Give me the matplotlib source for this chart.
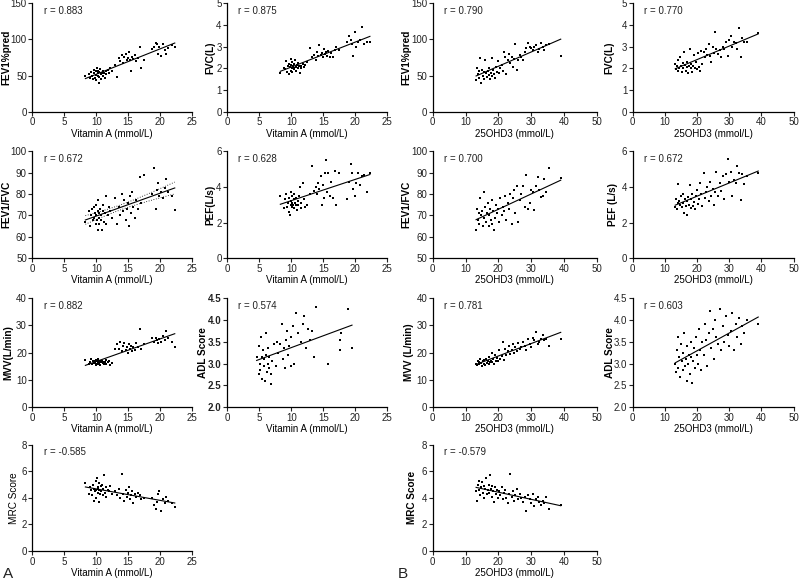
import numpy as np
import matplotlib
matplotlib.use("Agg")
import matplotlib.pyplot as plt

plt.rcParams['font.family'] = ['Liberation Sans', 'DejaVu Sans']
plt.rcParams['text.color'] = '#222222'
plt.rcParams['xtick.color'] = '#222222'
plt.rcParams['ytick.color'] = '#222222'

# ---- Vitamin A panels (A) ----
vita_x = [8.3, 8.8, 9.0, 9.2, 9.4, 9.5, 9.6, 9.7, 9.8, 9.9, 10.0, 10.0, 10.1, 10.2, 10.2, 10.3, 10.4,
          10.5, 10.5, 10.6, 10.7, 10.8, 10.9, 11.0, 11.1, 11.2, 11.3, 11.5, 11.6, 11.8, 12.0, 12.2, 12.4,
          13.0, 13.3, 13.6, 13.8, 14.0, 14.2, 14.4, 14.6, 14.8, 15.0, 15.1, 15.3, 15.5, 15.6, 15.8, 16.0,
          16.2, 16.5, 16.8, 17.0, 17.5,
          18.7, 19.0, 19.3, 19.5, 19.7, 19.9, 20.2, 20.5, 20.8, 21.0, 21.3, 21.8, 22.3]

fev1_a = [50, 52, 47, 55, 49, 45, 53, 58, 47, 51, 56, 44, 60, 53, 49, 57, 40, 55, 48, 59, 52, 46, 54,
          57, 50, 53, 47, 56, 52, 58, 54, 60, 57,
          65, 48, 74, 70, 78, 68, 75, 80, 71, 74, 82, 72, 56, 76, 73, 78, 70, 74, 90, 60, 72,
          86, 90, 95, 93, 80, 89, 77, 94, 85, 80, 88, 92, 90]

fvc_a = [1.78, 2.0, 1.95, 2.35, 1.85, 2.1, 2.2, 1.75, 2.05, 1.9, 2.15, 2.45, 2.0, 1.85, 2.3, 2.1, 2.0,
         2.2, 1.95, 2.4, 2.05, 1.9, 2.15, 2.0, 2.25, 2.1, 1.78, 2.0, 2.1, 2.2, 2.05, 2.15, 2.3,
         2.95, 2.5, 2.6, 2.4, 2.75, 2.55, 3.05, 2.6, 2.7, 2.5, 2.9, 2.65, 2.75, 2.55, 2.8, 2.5, 2.7,
         2.5, 2.85, 3.0, 2.85,
         3.2, 3.5, 3.3, 3.1, 2.55, 3.65, 3.0, 3.2, 3.3, 3.9, 3.1, 3.2, 3.2]

ratio_a = [67, 72, 65, 70, 73, 68, 74, 69, 71, 66, 70, 75, 68, 72, 63, 77, 69, 66, 71, 73, 68, 70,
           63, 72, 75, 67, 71, 79, 66, 70, 74, 72, 69,
           78, 66, 74, 70, 80, 72, 77, 68, 73, 76, 65, 79, 71, 81, 74, 69, 77, 73, 88, 76, 89,
           80, 92, 73, 82, 85, 79, 81, 78, 83, 87, 81, 79, 72.5]

pef_a = [3.5, 2.8, 3.3, 3.6, 2.9, 3.1, 2.6, 3.4, 2.4, 3.0, 3.2, 3.7, 2.9, 3.1, 3.5, 3.0, 3.3, 2.8,
         3.6, 3.1, 3.0, 3.4, 2.7, 3.2, 3.0, 3.5, 4.0, 3.1, 2.8, 4.2, 3.3, 2.9, 3.0,
         3.6, 5.2, 3.8, 4.0, 3.6, 4.2, 3.9, 4.6, 3.0, 4.1, 3.4, 4.8, 5.5, 3.7, 4.8, 3.5, 4.3, 3.4,
         4.9, 3.0, 4.8,
         3.3, 4.3, 5.3, 4.8, 3.9, 3.5, 4.2, 4.8, 4.1, 4.6, 4.7, 3.7, 4.8]

mvv_a = [17.2, 16.0, 16.5, 17.5, 15.8, 16.8, 16.2, 17.0, 16.5, 15.5, 17.3, 16.0, 16.8, 16.3, 17.8,
         15.9, 16.6, 17.1, 16.2, 15.6, 16.9, 16.4, 17.0, 16.1, 16.7, 15.8, 16.5, 17.2, 16.0, 16.4,
         16.8, 15.5, 16.2,
         21.5, 23.0, 21.5, 24.0, 20.5, 22.5, 23.5, 21.0, 22.0, 20.0, 23.0, 21.5, 22.5, 20.5, 22.0,
         21.0, 23.5, 22.0, 28.5, 21.5, 23.0,
         25.5, 24.0, 25.5, 24.5, 23.5, 25.0, 24.0, 26.0, 24.5, 28.0, 25.5, 24.0, 22.0]

mrc_a = [5.1, 4.3, 4.8, 4.6, 4.2, 5.0, 4.7, 3.8, 4.5, 5.3, 4.6, 4.0, 5.5, 4.8, 4.4, 4.7, 3.7, 5.1,
         4.6, 4.3, 4.9, 4.5, 5.0, 4.2, 4.7, 5.7, 4.4, 4.8, 4.1, 4.6, 4.5, 4.9, 4.3,
         4.5, 4.2, 4.7, 4.0, 5.8, 4.3, 3.8, 4.6, 4.1, 4.4, 4.8, 3.9, 4.2, 4.5, 3.6, 4.3, 4.1, 4.4,
         4.2, 3.9, 4.0,
         4.0, 3.5, 3.2, 3.7, 4.3, 4.5, 3.0, 3.9, 3.6, 4.1, 3.8, 3.6, 3.3]

adl_vita_x = [4.6, 4.9, 5.0, 5.1, 5.2, 5.3, 5.4, 5.5, 5.6, 5.7, 5.8, 5.9, 6.0, 6.1, 6.2, 6.3, 6.4,
              6.5, 6.6, 6.8, 6.9, 7.0, 7.3, 7.6, 7.8, 8.0, 8.3, 8.5, 8.7, 8.9, 9.0, 9.2, 9.4, 9.5,
              9.7, 9.9, 10.0, 10.3, 10.5, 10.8, 11.0, 11.5, 11.8, 12.0, 12.3, 12.6, 12.9, 13.2,
              13.5, 13.9, 15.8, 17.6, 17.7, 17.8, 18.9, 19.5]
adl_a = [3.15, 2.75, 3.4, 3.0, 2.85, 3.6, 3.15, 2.65, 3.3, 2.95, 3.1, 2.6, 3.7, 3.2, 2.8, 3.0, 3.35,
         2.9, 3.15, 2.75, 2.52, 3.05, 3.45, 2.95, 3.5, 3.25, 3.45, 3.9, 3.1, 3.35, 2.9, 3.55, 3.75,
         3.2, 3.4, 2.95, 3.6, 3.85, 3.0, 4.15, 3.7, 3.5, 3.9, 4.1, 3.35, 3.8, 3.55, 3.75, 3.15, 4.3,
         3.0, 3.55, 3.3, 3.7, 4.25, 3.35]

# ---- 25OHD3 panels (B) ----
vd_x = [13.2, 13.5, 13.8, 14.0, 14.2, 14.5, 14.7, 15.0, 15.2, 15.5, 15.7, 16.0, 16.2, 16.5, 16.7,
        17.0, 17.2, 17.5, 17.7, 18.0, 18.2, 18.5, 18.7, 19.0, 19.3, 19.6, 20.0, 20.3, 20.6, 21.0,
        21.3, 21.6,
        22.0, 22.4, 22.8, 23.2, 23.6, 24.0, 24.4, 24.8, 25.2, 25.6, 26.0, 26.5, 27.0, 27.5, 28.0,
        28.5, 29.0, 29.5,
        30.0, 30.5, 31.0, 31.5, 32.0, 32.5, 33.0, 33.5, 34.0, 34.5, 35.5, 39.0]

fev1_b = [44, 60, 52, 47, 56, 74, 40, 58, 50, 46, 55, 72, 53, 48, 57, 51, 60, 45, 54, 74, 49, 58,
          52, 47, 62, 55, 70, 53, 60, 65, 57, 82,
          75, 52, 72, 80, 68, 76, 62, 73, 94, 58, 72, 78, 75, 71, 83, 88, 95, 90,
          88, 85, 90, 92, 82, 87, 95, 90, 85, 92, 93, 77]

fvc_b = [2.2, 1.95, 2.1, 2.4, 1.9, 2.0, 2.5, 2.1, 1.85, 2.25, 2.0, 2.75, 2.15, 1.9, 2.05, 2.3, 1.8,
         2.1, 2.9, 2.0, 2.2, 1.85, 2.1, 2.6, 2.0, 2.3, 1.95, 2.7, 2.05, 1.9, 2.8, 2.2,
         2.75, 2.5, 2.9, 2.6, 3.1, 2.55, 2.3, 3.0, 2.7, 3.65, 2.9, 2.65, 2.85, 2.5, 3.0, 2.9, 3.2, 2.55,
         3.3, 3.5, 3.0, 3.2, 3.15, 2.9, 3.85, 2.5, 3.4, 3.2, 3.2, 3.6]

ratio_b = [63, 73, 68, 71, 66, 78, 70, 72, 65, 81, 69, 74, 67, 71, 76, 65, 70, 73, 68, 77, 66, 72,
           63, 69, 75, 71, 73, 67, 78, 70, 74, 72,
           79, 68, 76, 73, 80, 66, 78, 82, 71, 84, 67, 77, 80, 84, 74, 89, 73, 76,
           82, 81, 72.5, 84, 88, 82, 78.5, 79, 87, 81, 92, 87.5]

pef_b = [2.9, 3.3, 2.75, 3.1, 4.15, 3.2, 3.0, 3.5, 2.85, 3.6, 3.1, 2.55, 3.3, 2.95, 3.2, 2.4, 3.45,
         3.0, 4.1, 2.8, 3.3, 3.6, 2.95, 3.15, 2.75, 3.5, 3.85, 3.05, 3.3, 4.2, 3.6, 2.95,
         4.8, 3.4, 3.7, 4.0, 3.2, 4.3, 3.5, 3.9, 3.0, 3.7, 4.85, 3.5, 4.2, 3.8, 4.6, 3.35, 4.75, 5.55,
         4.3, 4.85, 3.5, 4.4, 4.2, 5.2, 4.8, 3.25, 4.75, 4.15, 4.6, 4.8]

mvv_b = [16.0, 15.5, 17.0, 16.5, 15.8, 17.5, 16.2, 15.0, 16.8, 17.2, 16.0, 15.5, 17.8, 16.3, 16.9,
         15.7, 18.5, 16.4, 17.1, 20.0, 16.6, 17.5, 15.9, 19.0, 16.8, 18.2, 17.0, 21.0, 17.5, 18.8,
         24.0, 17.2,
         21.5, 19.0, 20.5, 22.5, 19.5, 21.0, 23.0, 20.0, 22.0, 20.5, 23.5, 21.5, 22.0, 24.0, 22.5,
         21.0, 25.0, 23.0,
         22.0, 25.5, 24.5, 27.5, 23.0, 24.0, 25.0, 26.5, 24.5, 25.0, 22.5, 25.0]

adl_b = [3.0, 2.8, 3.3, 3.6, 2.9, 3.15, 2.7, 3.45, 3.05, 2.85, 3.25, 3.7, 2.95, 3.1, 2.6, 3.4, 3.0,
         3.2, 2.75, 3.5, 3.15, 2.55, 3.05, 3.35, 2.9, 3.6, 3.2, 3.0, 3.8, 3.3, 2.85, 3.5,
         3.2, 3.9, 3.55, 2.95, 3.7, 4.2, 3.35, 3.8, 3.1, 4.0, 3.6, 3.45, 4.25, 3.3, 3.85, 3.5, 4.1, 3.65,
         3.4, 3.75, 4.15, 3.3, 3.9, 3.6, 4.05, 3.45, 3.85, 3.7, 4.0, 3.9]

mrc_b = [4.5, 3.8, 5.0, 4.6, 5.3, 4.2, 4.8, 5.2, 4.4, 4.9, 4.0, 4.7, 5.5, 4.3, 4.6, 5.0, 4.4, 5.7,
         4.7, 4.1, 4.9, 4.5, 3.7, 4.8, 4.3, 4.6, 4.0, 4.5, 4.2, 4.8, 3.9, 4.4,
         4.6, 4.0, 3.6, 4.3, 5.8, 4.1, 4.5, 3.8, 4.2, 4.7, 3.9, 4.3, 4.0, 3.7, 4.1, 3.0, 4.2, 3.9,
         3.6, 4.3, 3.4, 3.9, 4.1, 3.7, 3.5, 3.8, 3.6, 4.1, 3.2, 3.5]

r_text = ['r = 0.883', 'r = 0.875', 'r = 0.790', 'r = 0.770',
          'r = 0.672', 'r = 0.628', 'r = 0.700', 'r = 0.672',
          'r = 0.882', 'r = 0.574', 'r = 0.781', 'r = 0.603',
          'r = -0.585', 'r = -0.579']

# (row, col, x, y, ylabel, ylim, ystep, bold label, r index, ylabel offset px)
panels = [
    (0, 0, vita_x, fev1_a, 'FEV1%pred', (0, 150), 50, True, 0, -21),
    (0, 1, vita_x, fvc_a, 'FVC(L)', (0, 5), 1, True, 1, -12),
    (0, 2, vd_x, fev1_b, 'FEV1%pred', (0, 150), 50, True, 2, -21),
    (0, 3, vd_x, fvc_b, 'FVC(L)', (0, 5), 1, True, 3, -18),
    (1, 0, vita_x, ratio_a, 'FEV1/FVC', (50, 100), 10, True, 4, -21),
    (1, 1, vita_x, pef_a, 'PEF(L/s)', (0, 6), 2, True, 5, -12),
    (1, 2, vd_x, ratio_b, 'FEV1/FVC', (50, 100), 10, True, 6, -21),
    (1, 3, vd_x, pef_b, 'PEF (L/s)', (0, 6), 2, True, 7, -15),
    (2, 0, vita_x, mvv_a, 'MVV(L/min)', (0, 40), 10, True, 8, -19),
    (2, 1, adl_vita_x, adl_a, 'ADL Score', (2.0, 4.5), 0.5, True, 9, -19),
    (2, 2, vd_x, mvv_b, 'MVV (L/min)', (0, 40), 10, True, 10, -19),
    (2, 3, vd_x, adl_b, 'ADL Score', (2.0, 4.5), 0.5, True, 11, -18),
    (3, 0, vita_x, mrc_a, 'MRC Score', (0, 8), 2, False, 12, -13),
    (3, 2, vd_x, mrc_b, 'MRC Score', (0, 8), 2, True, 13, -16),
]

col_left = [0.0405, 0.284, 0.541, 0.791]
col_w = [0.1995, 0.2, 0.205, 0.201]
row_bottom = [0.807, 0.555, 0.298, 0.050]
row_h = [0.188, 0.184, 0.188, 0.183]

fig = plt.figure(figsize=(8, 5.8), dpi=100)

for row, col, x, y, ylab, ylim, ystep, bold, ri, lab_off in panels:
    ax = fig.add_axes([col_left[col], row_bottom[row], col_w[col], row_h[row]])
    x = np.array(x)
    y = np.array(y)
    ax.scatter(x, y, s=4, marker='s', color='black', linewidths=0)

    # least squares fit, drawn over the data range
    k, b = np.polyfit(x, y, 1)
    xs = np.linspace(x.min(), x.max(), 50)
    ax.plot(xs, k * xs + b, color='black', lw=0.8)
    if row == 1 and col == 0:
        # 95% confidence band of the fit
        n = len(x)
        res = y - (k * x + b)
        se = np.sqrt(np.sum(res ** 2) / (n - 2))
        sxx = np.sum((x - x.mean()) ** 2)
        half = 1.98 * se * np.sqrt(1 / n + (xs - x.mean()) ** 2 / sxx)
        ax.plot(xs, k * xs + b + half, color='black', lw=0.6, ls=(0, (1, 2)))
        ax.plot(xs, k * xs + b - half, color='black', lw=0.6, ls=(0, (1, 2)))

    if col < 2:
        ax.set_xlim(0, 25)
        ax.set_xticks(np.arange(0, 26, 5))
        ax.set_xlabel('Vitamin A (mmol/L)', fontsize=7, labelpad=1)
    else:
        ax.set_xlim(0, 50)
        ax.set_xticks(np.arange(0, 51, 10))
        ax.set_xlabel('25OHD3 (mmol/L)', fontsize=7, labelpad=1)
    ax.set_ylim(*ylim)
    ax.set_yticks(np.arange(ylim[0], ylim[1] + ystep / 2, ystep))
    ax.set_ylabel(ylab, fontsize=7.2, fontweight='bold' if bold else 'normal')
    ax.yaxis.set_label_coords(lab_off / (col_w[col] * 800), 0.5)

    ax.spines['top'].set_visible(False)
    ax.spines['right'].set_visible(False)
    ax.spines['left'].set_linewidth(0.9)
    ax.spines['bottom'].set_linewidth(0.9)
    ax.tick_params(direction='out', length=3, width=0.8, labelsize=7, pad=1)
    if ystep == 0.5 and col == 1:
        for t in ax.get_yticklabels():
            t.set_fontweight('bold')

    ax.text(0.07, 0.93, r_text[ri], transform=ax.transAxes, fontsize=7, va='center')

fig.text(0.004, 0.004, 'A', fontsize=11)
fig.text(0.497, 0.004, 'B', fontsize=11)

plt.savefig('out.png', dpi=100)
